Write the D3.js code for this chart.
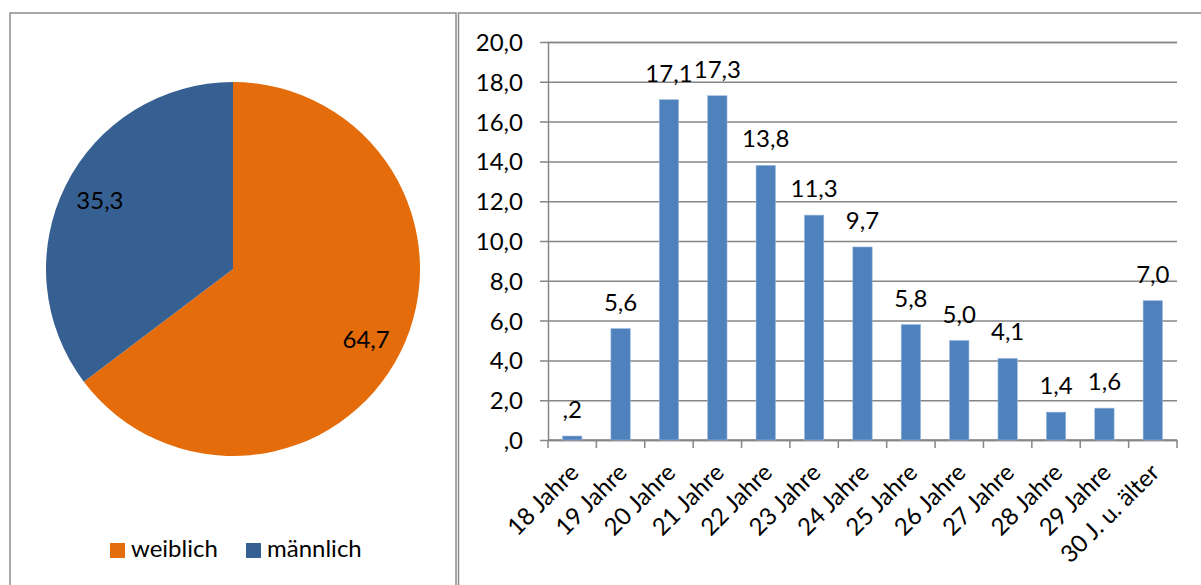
<!DOCTYPE html>
<html>
<head>
<meta charset="utf-8">
<script src="https://cdn.jsdelivr.net/npm/d3@7"></script>
<style>
  body { margin: 0; background: #fff; }
  text { font-family: Lato, "Noto Sans", sans-serif; font-size: 24px; fill: #000; }
</style>
</head>
<body>
<div id="chart"></div>
<script>
// Geschlecht (Kreis) und Alter (Säulen), Angaben in Prozent
var genderLabels = ["weiblich", "männlich"];
var genderValues = [64.7, 35.3];
var genderColors = ["#E46C0A", "#376092"];

var ageLabels = ["18 Jahre", "19 Jahre", "20 Jahre", "21 Jahre", "22 Jahre", "23 Jahre",
  "24 Jahre", "25 Jahre", "26 Jahre", "27 Jahre", "28 Jahre", "29 Jahre", "30 J. u. älter"];
var ageValues = [0.2, 5.6, 17.1, 17.3, 13.8, 11.3, 9.7, 5.8, 5.0, 4.1, 1.4, 1.6, 7.0];
var yTicks = [0, 2, 4, 6, 8, 10, 12, 14, 16, 18, 20];

var svgWidth = 1201;
var svgHeight = 585;

// deutsches Zahlenformat: 0,2 -> ",2"
function fmt(v) {
  var s = v.toFixed(1).replace(".", ",");
  return s.indexOf("0,") === 0 ? s.slice(1) : s;
}

var svg = d3.select("#chart")
  .append("svg")
  .attr("width", svgWidth)
  .attr("height", svgHeight);

// Rahmen der beiden Diagramme
svg.append("rect")
  .attr("x", 10).attr("y", 13)
  .attr("width", 446).attr("height", 600)
  .attr("fill", "none").attr("stroke", "#8c8c8c").attr("stroke-width", 1.5);
svg.append("rect")
  .attr("x", 458.5).attr("y", 13)
  .attr("width", 800).attr("height", 600)
  .attr("fill", "none").attr("stroke", "#8c8c8c").attr("stroke-width", 1.5);

// ---------- Kreisdiagramm ----------
var cx = 233, cy = 269, r = 187;
var pie = d3.pie().sort(null).value(function(d) { return d; });
var arc = d3.arc().innerRadius(0).outerRadius(r);
var labelArc = d3.arc().innerRadius(r * 0.795).outerRadius(r * 0.795);

var pieG = svg.append("g").attr("transform", "translate(" + cx + "," + cy + ")");
var slices = pie(genderValues);

pieG.selectAll("path")
  .data(slices)
  .enter().append("path")
  .attr("d", arc)
  .attr("fill", function(d, i) { return genderColors[i]; });

pieG.selectAll("text")
  .data(slices)
  .enter().append("text")
  .attr("transform", function(d) {
    var c = labelArc.centroid(d);
    return "translate(" + c[0] + "," + (c[1] + (c[1] > 0 ? 4 : -2)) + ")";
  })
  .attr("text-anchor", "middle")
  .attr("dy", "0.35em")
  .text(function(d) { return fmt(d.data); });

// Legende
var legendX = [110, 246];
var legend = svg.append("g");
legend.selectAll("rect")
  .data(genderLabels)
  .enter().append("rect")
  .attr("x", function(d, i) { return legendX[i]; })
  .attr("y", 543)
  .attr("width", 15).attr("height", 15)
  .attr("fill", function(d, i) { return genderColors[i]; });
legend.selectAll("text")
  .data(genderLabels)
  .enter().append("text")
  .attr("x", function(d, i) { return legendX[i] + 21; })
  .attr("y", 557)
  .text(function(d) { return d; });

// ---------- Säulendiagramm ----------
var x = d3.scaleBand()
  .domain(ageLabels)
  .range([548, 1177])
  .paddingInner(0.6)
  .paddingOuter(0.3);

var y = d3.scaleLinear()
  .domain([0, 20])
  .range([440, 42]);

// Gitternetzlinien + Y-Achse
var yAxis = d3.axisLeft(y)
  .tickValues(yTicks)
  .tickSize(-(1177 - 548))
  .tickPadding(0)
  .tickFormat(fmt);

var gy = svg.append("g")
  .attr("transform", "translate(548,0)")
  .call(yAxis);
gy.select(".domain").attr("stroke", "#868686").attr("stroke-width", 1.5);
gy.selectAll(".tick line")
  .attr("x1", -8)
  .attr("stroke", "#868686").attr("stroke-width", 1.5);
gy.selectAll(".tick text")
  .attr("x", -25)
  .attr("dy", "0.35em")
  .style("font-family", "Lato, 'Noto Sans', sans-serif")
  .style("font-size", "24px")
  .attr("fill", "#000");

// X-Achse mit Teilstrichen an den Kategoriegrenzen
var gx = svg.append("g").attr("transform", "translate(0,440)");
gx.append("line")
  .attr("x1", 548).attr("x2", 1177)
  .attr("stroke", "#868686").attr("stroke-width", 1.5);
var bounds = ageLabels.map(function(d) { return x(d) - x.step() * x.paddingInner() / 2; });
bounds.push(1177);
gx.selectAll(".xt")
  .data(bounds)
  .enter().append("line")
  .attr("class", "xt")
  .attr("x1", function(d) { return d; })
  .attr("x2", function(d) { return d; })
  .attr("y1", 0).attr("y2", 8)
  .attr("stroke", "#868686").attr("stroke-width", 1.5);

gx.selectAll(".xl")
  .data(ageLabels)
  .enter().append("text")
  .attr("class", "xl")
  .attr("text-anchor", "end")
  .attr("transform", function(d) {
    return "translate(" + (x(d) + x.bandwidth() / 2 + 8) + ",34) rotate(-45)";
  })
  .text(function(d) { return d; });

// Säulen
svg.selectAll(".bar")
  .data(ageValues)
  .enter().append("rect")
  .attr("class", "bar")
  .attr("x", function(d, i) { return x(ageLabels[i]); })
  .attr("y", function(d) { return y(d); })
  .attr("width", x.bandwidth())
  .attr("height", function(d) { return y(0) - y(d); })
  .attr("fill", "#4F81BD")
  .attr("stroke", "#9bb8dc")
  .attr("stroke-width", 0.6);

// Datenbeschriftungen
svg.selectAll(".val")
  .data(ageValues)
  .enter().append("text")
  .attr("class", "val")
  .attr("text-anchor", "middle")
  .attr("x", function(d, i) { return x(ageLabels[i]) + x.bandwidth() / 2; })
  .attr("y", function(d) { return y(d) - 18; })
  .text(fmt);
</script>
</body>
</html>
